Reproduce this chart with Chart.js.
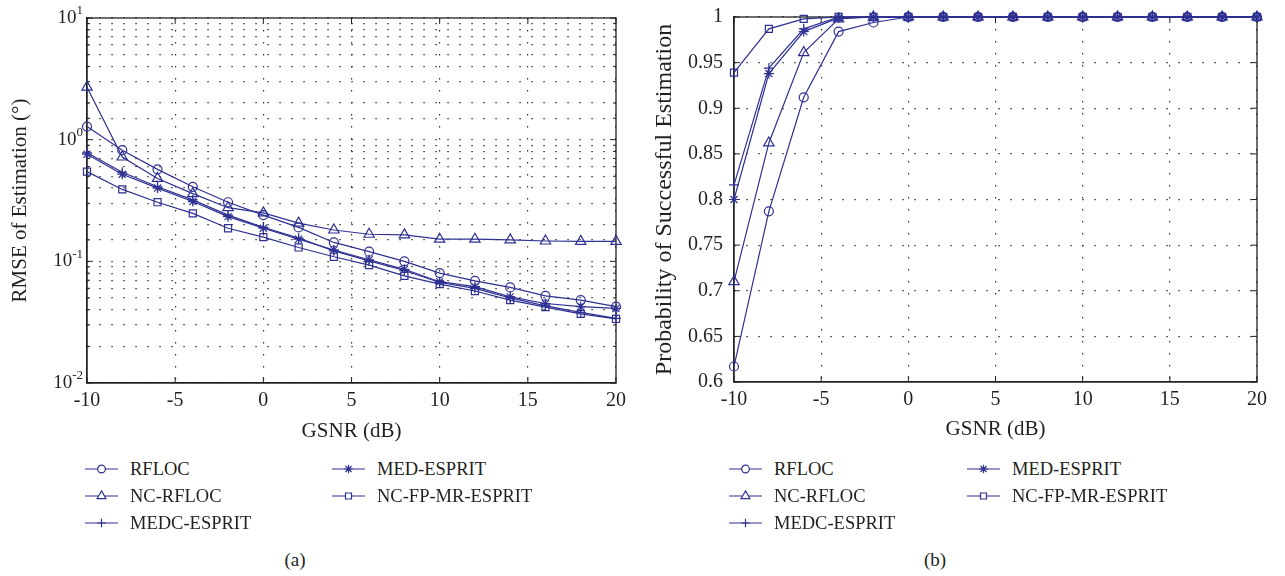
<!DOCTYPE html>
<html lang="en">
<head>
<meta charset="UTF-8">
<title>RMSE and probability vs GSNR</title>
<script src="https://cdn.jsdelivr.net/npm/chart.js"></script>
<style>
  body { margin: 0; background: #fff; font-family: "Liberation Serif", "DejaVu Serif", serif; color: #231f20; }
  #wrap { position: relative; width: 1285px; height: 576px; overflow: hidden; }
  .plot { position: absolute; top: 0; }
  .item { position: absolute; height: 22px; display: flex; align-items: center; white-space: nowrap; font-size: 18.5px; }
  .item canvas { margin-right: 12px; }
  .cap { position: absolute; top: 549px; font-size: 19px; transform: translateX(-50%); }
</style>
</head>
<body>
<div id="wrap">
  <canvas id="rmseChart" class="plot" width="640" height="445" style="left:0"></canvas>
  <canvas id="probChart" class="plot" width="645" height="445" style="left:640px"></canvas>
  <div class="cap" style="left:295px">(a)</div>
  <div class="cap" style="left:935px">(b)</div>
</div>
<script>
  // GSNR (dB)
  const gsnr = [-10, -8, -6, -4, -2, 0, 2, 4, 6, 8, 10, 12, 14, 16, 18, 20];

  const methods = ['RFLOC', 'NC-RFLOC', 'MEDC-ESPRIT', 'MED-ESPRIT', 'NC-FP-MR-ESPRIT'];
  const markers = ['circle', 'triangle', 'cross', 'star', 'rect'];

  // (a) RMSE of estimation (deg)
  const rmseRfloc   = [1.28, 0.82, 0.57, 0.41, 0.306, 0.24, 0.19, 0.143, 0.12, 0.10, 0.080, 0.069, 0.061, 0.052, 0.048, 0.0425];
  const rmseNcRfloc = [2.7, 0.72, 0.48, 0.36, 0.276, 0.25, 0.206, 0.181, 0.167, 0.165, 0.152, 0.152, 0.150, 0.147, 0.146, 0.146];
  const rmseMedc    = [0.78, 0.54, 0.41, 0.32, 0.24, 0.19, 0.155, 0.122, 0.101, 0.084, 0.067, 0.060, 0.050, 0.043, 0.038, 0.034];
  const rmseMed     = [0.76, 0.52, 0.40, 0.31, 0.233, 0.187, 0.152, 0.124, 0.103, 0.086, 0.068, 0.062, 0.051, 0.045, 0.0425, 0.041];
  const rmseNcFp    = [0.546, 0.39, 0.306, 0.248, 0.187, 0.158, 0.13, 0.109, 0.093, 0.076, 0.065, 0.057, 0.048, 0.042, 0.037, 0.0336];

  // (b) probability of successful estimation
  const probRfloc   = [0.617, 0.787, 0.912, 0.984, 0.994, 1, 1, 1, 1, 1, 1, 1, 1, 1, 1, 1];
  const probNcRfloc = [0.71, 0.862, 0.961, 0.998, 1, 1, 1, 1, 1, 1, 1, 1, 1, 1, 1, 1];
  const probMedc    = [0.816, 0.944, 0.987, 1, 1, 1, 1, 1, 1, 1, 1, 1, 1, 1, 1, 1];
  const probMed     = [0.80, 0.938, 0.984, 0.999, 1, 1, 1, 1, 1, 1, 1, 1, 1, 1, 1, 1];
  const probNcFp    = [0.939, 0.987, 0.998, 1, 1, 1, 1, 1, 1, 1, 1, 1, 1, 1, 1, 1];

  const blue = '#2e3192';
  const ink = '#231f20';
  const serif = '"Liberation Serif", "DejaVu Serif", serif';
  const radii = { circle: 4.5, triangle: 6, cross: 5, star: 5, rect: 5 };

  function makeSets(series) {
    return series.map((vals, i) => ({
      label: methods[i],
      data: vals.map((v, k) => ({ x: gsnr[k], y: v })),
      borderColor: blue,
      backgroundColor: 'rgba(0,0,0,0)',
      borderWidth: 1.2,
      pointStyle: markers[i],
      pointRadius: radii[markers[i]],
      pointBorderWidth: 1.2,
      pointBorderColor: blue,
      pointBackgroundColor: 'rgba(0,0,0,0)',
      clip: false,
      tension: 0
    }));
  }

  const isDecade = v => Math.abs(Math.log10(v) - Math.round(Math.log10(v))) < 1e-6;

  // box round the plot and ticks pointing inward
  const frame = {
    id: 'frame',
    beforeDatasetsDraw(chart) {
      const { ctx, chartArea: a, scales } = chart;
      const logY = scales.y.type === 'logarithmic';
      ctx.save();
      ctx.strokeStyle = '#222';
      ctx.lineWidth = 1.3;
      ctx.strokeRect(a.left, a.top, a.right - a.left, a.bottom - a.top);
      ctx.lineWidth = 1;
      ctx.beginPath();
      scales.x.ticks.forEach(t => {
        const px = scales.x.getPixelForValue(t.value);
        ctx.moveTo(px, a.bottom); ctx.lineTo(px, a.bottom - 6);
        ctx.moveTo(px, a.top); ctx.lineTo(px, a.top + 6);
      });
      scales.y.ticks.forEach(t => {
        const py = scales.y.getPixelForValue(t.value);
        const len = logY && !isDecade(t.value) ? 3 : 6;
        ctx.moveTo(a.left, py); ctx.lineTo(a.left + len, py);
        ctx.moveTo(a.right, py); ctx.lineTo(a.right - len, py);
      });
      ctx.stroke();

      // powers of ten on the log axis, with raised exponent
      if (logY) {
        ctx.fillStyle = ink;
        ctx.textBaseline = 'middle';
        scales.y.ticks.filter(t => isDecade(t.value)).forEach(t => {
          const py = scales.y.getPixelForValue(t.value);
          const exp = String(Math.round(Math.log10(t.value)));
          ctx.font = '13px ' + serif;
          const ew = ctx.measureText(exp).width;
          const right = a.left - 4;
          ctx.textAlign = 'right';
          ctx.fillText(exp, right, py - 7);
          ctx.font = '19px ' + serif;
          ctx.fillText('10', right - ew, py);
        });
      }
      ctx.restore();
    }
  };

  const tickFont = { family: serif, size: 20 };
  const titleFont = { family: serif, size: 21 };
  const gridStyle = { color: '#333', lineWidth: 1.2, drawTicks: false };
  const borderStyle = { color: '#222', width: 1.3, dash: [1.5, 10.5] };

  function xScale(h, titlePad) {
    return {
      type: 'linear', min: -10, max: 20,
      ticks: { stepSize: 5, font: tickFont, color: ink, padding: 6 },
      grid: gridStyle, border: borderStyle,
      title: { display: true, text: 'GSNR (dB)', font: titleFont, color: ink, padding: { top: 0, bottom: titlePad } },
      afterFit(s) { s.height = h; }
    };
  }

  new Chart(document.getElementById('rmseChart'), {
    type: 'line',
    data: { datasets: makeSets([rmseRfloc, rmseNcRfloc, rmseMedc, rmseMed, rmseNcFp]) },
    options: {
      responsive: false, animation: false,
      layout: { padding: { left: 0, top: 18, right: 24, bottom: 0 } },
      plugins: { legend: { display: false }, tooltip: { enabled: false } },
      scales: {
        x: xScale(62, 1),
        y: {
          type: 'logarithmic', min: 0.01, max: 10,
          ticks: { autoSkip: false, font: tickFont, color: ink, padding: 4, callback: () => '' },
          grid: gridStyle, border: borderStyle,
          title: { display: true, text: 'RMSE of Estimation (°)', font: titleFont, color: ink, padding: { top: 8, bottom: 0 } },
          afterFit(s) { s.width = 87; s.paddingTop = 0; s.paddingBottom = 0; }
        }
      }
    },
    plugins: [frame]
  });

  new Chart(document.getElementById('probChart'), {
    type: 'line',
    data: { datasets: makeSets([probRfloc, probNcRfloc, probMedc, probMed, probNcFp]) },
    options: {
      responsive: false, animation: false,
      layout: { padding: { left: 0, top: 17, right: 28, bottom: 0 } },
      plugins: { legend: { display: false }, tooltip: { enabled: false } },
      scales: {
        x: xScale(63, 3),
        y: {
          type: 'linear', min: 0.6, max: 1,
          ticks: { stepSize: 0.05, font: tickFont, color: ink, padding: 11,
                   callback: v => String(Math.round(v * 100) / 100) },
          grid: gridStyle, border: borderStyle,
          title: { display: true, text: 'Probability of Successful Estimation', font: { family: serif, size: 24 }, color: ink, padding: { top: 10, bottom: 0 } },
          afterFit(s) { s.width = 94; s.paddingTop = 0; s.paddingBottom = 0; }
        }
      }
    },
    plugins: [frame]
  });

  // legends: two columns, filled top to bottom
  function legend(cols, rows) {
    const wrap = document.getElementById('wrap');
    methods.forEach((name, i) => {
      const col = i < 3 ? 0 : 1;
      const row = i < 3 ? i : i - 3;
      const item = document.createElement('div');
      item.className = 'item';
      item.style.left = cols[col] + 'px';
      item.style.top = (rows[row] - 11) + 'px';
      const c = document.createElement('canvas');
      c.width = 33; c.height = 20;
      const ctx = c.getContext('2d');
      ctx.strokeStyle = blue; ctx.lineWidth = 1.2;
      ctx.beginPath(); ctx.moveTo(0, 10); ctx.lineTo(33, 10); ctx.stroke();
      if (Chart.helpers && Chart.helpers.drawPoint) {
        ctx.fillStyle = '#fff';
        Chart.helpers.drawPoint(ctx, { pointStyle: markers[i], radius: radii[markers[i]] * 0.85, rotation: 0, borderWidth: 1.2 }, 16.5, 10);
      }
      item.appendChild(c);
      item.appendChild(document.createTextNode(name));
      wrap.appendChild(item);
    });
  }
  legend([85, 332], [469, 496, 523]);
  legend([729, 967], [469, 496, 523]);
</script>
</body>
</html>
